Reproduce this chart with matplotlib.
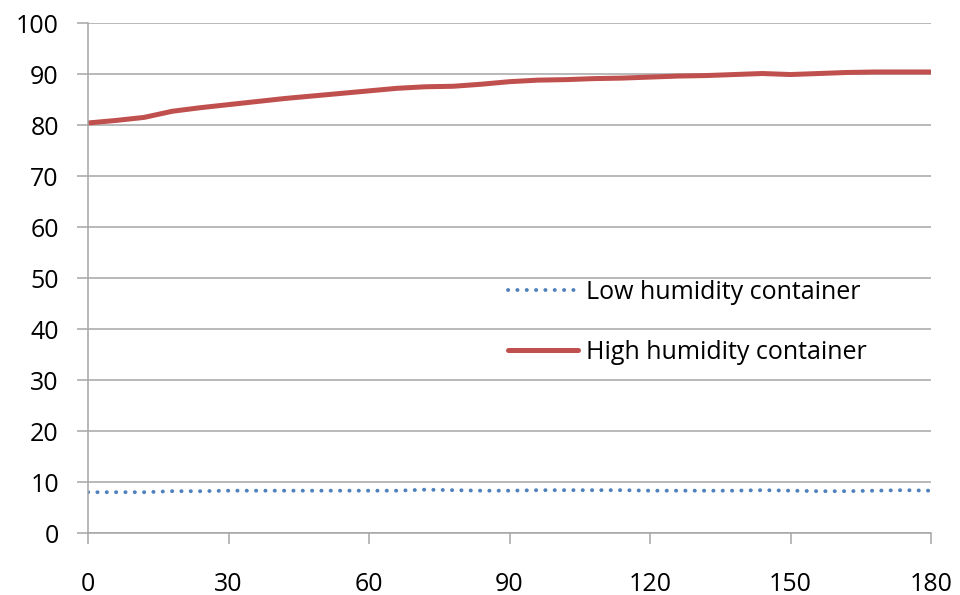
import numpy as np
import matplotlib
matplotlib.use("Agg")
import matplotlib.pyplot as plt

# Time (min) and humidity readings
minutes = list(range(0, 181, 6))
high_humidity = [80.4, 80.9, 81.5, 82.7, 83.4, 84.0, 84.6, 85.2, 85.7, 86.2,
                 86.7, 87.2, 87.5, 87.6, 88.0, 88.5, 88.8, 88.9, 89.1, 89.2,
                 89.4, 89.6, 89.7, 89.9, 90.1, 89.9, 90.1, 90.3, 90.4, 90.4,
                 90.4]
low_humidity = [8.0, 8.0, 8.0, 8.2, 8.2, 8.3, 8.3, 8.3, 8.3, 8.3,
                8.3, 8.3, 8.5, 8.4, 8.3, 8.3, 8.4, 8.4, 8.4, 8.4,
                8.3, 8.3, 8.3, 8.3, 8.4, 8.3, 8.2, 8.2, 8.3, 8.4,
                8.3]
x_ticks = [0, 30, 60, 90, 120, 150, 180]
y_ticks = list(range(0, 101, 10))

plt.rcParams['font.family'] = ['Open Sans', 'DejaVu Sans']
grid_col = '#a6a6a6'

fig = plt.figure(figsize=(9.6, 5.95), dpi=100)
ax = fig.add_axes([0.0917, 0.1042, 0.8781, 0.8571])

ax.plot(minutes, low_humidity, color='#4f81bd', lw=2.8,
        linestyle=(0, (0.05, 2.35)), dash_capstyle='round',
        label='Low humidity container')
ax.plot(minutes, high_humidity, color='#c0504d', lw=3.6,
        solid_capstyle='round', label='High humidity container')

ax.set_xlim(0, 180)
ax.set_ylim(0, 100)
ax.set_xticks(x_ticks)
ax.set_yticks(y_ticks)
ax.yaxis.grid(True, color=grid_col, lw=1.1)
ax.set_axisbelow(True)

for s in ['top', 'right']:
    ax.spines[s].set_visible(False)
for s in ['left', 'bottom']:
    ax.spines[s].set_color(grid_col)
    ax.spines[s].set_linewidth(1.1)

ax.tick_params(axis='x', direction='out', length=8, width=1.1,
               color=grid_col, pad=20, labelsize=18)
ax.tick_params(axis='y', direction='out', length=8, width=1.1,
               color=grid_col, pad=13, labelsize=18)

ax.legend(loc='center left', bbox_to_anchor=(0.472, 0.413), frameon=False,
          fontsize=18, handlelength=2.8, handletextpad=0.32,
          labelspacing=1.4)

fig.savefig('out.png', dpi=100)
